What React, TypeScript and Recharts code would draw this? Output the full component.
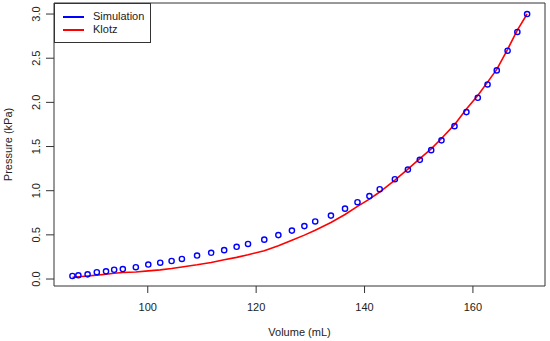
import { ComposedChart, XAxis, YAxis, Scatter, Line, Legend, ReferenceArea } from "recharts";

const volumes = [
  86.1, 87.2, 88.9, 90.6, 92.3, 93.8, 95.4, 97.8, 100.1, 102.3, 104.4, 106.3, 109.1, 111.7,
  114.1, 116.4, 118.5, 121.5, 124.1, 126.6, 128.9, 130.9, 133.8, 136.4, 138.7, 140.9, 142.8,
  145.6, 148.0, 150.2, 152.3, 154.2, 156.6, 158.8, 160.9, 162.7, 164.4, 166.4, 168.2, 170.0,
];
const simulation = [
  0.034, 0.042, 0.053, 0.077, 0.087, 0.105, 0.113, 0.134, 0.164, 0.185, 0.204, 0.227, 0.266,
  0.297, 0.327, 0.365, 0.397, 0.446, 0.497, 0.548, 0.599, 0.652, 0.718, 0.797, 0.87, 0.939,
  1.017, 1.13, 1.239, 1.349, 1.459, 1.57, 1.731, 1.89, 2.052, 2.203, 2.362, 2.585, 2.797, 3.0,
];
const klotz = [
  0.019, 0.025, 0.034, 0.044, 0.054, 0.065, 0.073, 0.08, 0.092, 0.104, 0.119, 0.136, 0.161,
  0.188, 0.218, 0.245, 0.274, 0.321, 0.378, 0.44, 0.497, 0.553, 0.64, 0.73, 0.822, 0.905,
  0.985, 1.12, 1.245, 1.363, 1.474, 1.591, 1.748, 1.924, 2.079, 2.229, 2.373, 2.601, 2.819, 3.0,
];
const xTicks = [100, 120, 140, 160];
const yTicks = [0, 0.5, 1, 1.5, 2, 2.5, 3];

const xDomain: [number, number] = [82.7, 173.3];
const yDomain: [number, number] = [-0.079, 3.125];

const rows = volumes.map((v, i) => ({ volume: v, sim: simulation[i], klotz: klotz[i] }));

const FONT = "'Liberation Sans', Arial, Helvetica, sans-serif";
const INK = "#222";

// y tick labels are parallel to the axis, like R's default
const YTick = (props: any) => {
  const { x, y, payload } = props;
  return (
    <text
      x={x}
      y={y}
      transform={`rotate(-90, ${x}, ${y})`}
      textAnchor="middle"
      fontSize={11}
      fontFamily={FONT}
      fill={INK}
    >
      {Number(payload.value).toFixed(1)}
    </text>
  );
};

const YTitle = (props: any) => {
  const vb = props.viewBox;
  const x = vb.x + 12;
  const y = vb.y + vb.height / 2;
  return (
    <text
      x={x}
      y={y}
      transform={`rotate(-90, ${x}, ${y})`}
      textAnchor="middle"
      fontSize={11}
      fontFamily={FONT}
      fill={INK}
    >
      Pressure (kPa)
    </text>
  );
};

const OpenCircle = (props: any) => (
  <circle cx={props.cx} cy={props.cy} r={2.6} fill="none" stroke="#0000ff" strokeWidth={1.4} />
);

const LegendBox = () => {
  const items = [
    { name: "Simulation", color: "#0000ff", top: 13 },
    { name: "Klotz", color: "#ff0000", top: 26 },
  ];
  return (
    <div
      style={{
        position: "relative",
        width: 97,
        height: 40,
        boxSizing: "border-box",
        border: "1px solid #333",
        background: "#fff",
        fontFamily: FONT,
        fontSize: 11,
        color: INK,
      }}
    >
      {items.map((it) => (
        <div key={it.name}>
          <div
            style={{
              position: "absolute",
              left: 8,
              top: it.top - 1,
              width: 21,
              height: 2,
              background: it.color,
            }}
          />
          <div style={{ position: "absolute", left: 38, top: it.top - 7, lineHeight: "13px" }}>
            {it.name}
          </div>
        </div>
      ))}
    </div>
  );
};

export default function App() {
  return (
    <div style={{ position: "absolute", left: 0, top: 0, width: 550, height: 341, background: "#fff" }}>
      <ComposedChart
        width={550}
        height={341}
        data={rows}
        margin={{ top: 3, right: 5, bottom: 0, left: 0 }}
      >
        <XAxis
          dataKey="volume"
          type="number"
          domain={xDomain}
          ticks={xTicks}
          allowDataOverflow
          height={55}
          axisLine={false}
          tickSize={7}
          tickMargin={10}
          tickLine={{ stroke: "#333" }}
          tick={{ fontSize: 11, fontFamily: FONT, fill: INK }}
          label={{
            value: "Volume (mL)",
            position: "insideBottom",
            offset: 5,
            fontSize: 11,
            fontFamily: FONT,
            fill: INK,
          }}
        />
        <YAxis
          type="number"
          domain={yDomain}
          ticks={yTicks}
          allowDataOverflow
          width={54}
          axisLine={false}
          tickSize={8}
          tickMargin={6}
          tickLine={{ stroke: "#333" }}
          tick={<YTick />}
          label={<YTitle />}
        />
        <ReferenceArea
          x1={xDomain[0]}
          x2={xDomain[1]}
          y1={yDomain[0]}
          y2={yDomain[1]}
          fill="none"
          stroke="#333"
          strokeWidth={1}
          ifOverflow="visible"
        />
        <Scatter dataKey="sim" shape={<OpenCircle />} isAnimationActive={false} />
        <Line
          dataKey="klotz"
          type="linear"
          stroke="#ff0000"
          strokeWidth={1.6}
          dot={false}
          activeDot={false}
          isAnimationActive={false}
        />
        <Legend
          layout="vertical"
          align="center"
          verticalAlign="middle"
          content={<LegendBox />}
          wrapperStyle={{ left: 54, top: 3, width: 97, height: 40 }}
        />
      </ComposedChart>
    </div>
  );
}
